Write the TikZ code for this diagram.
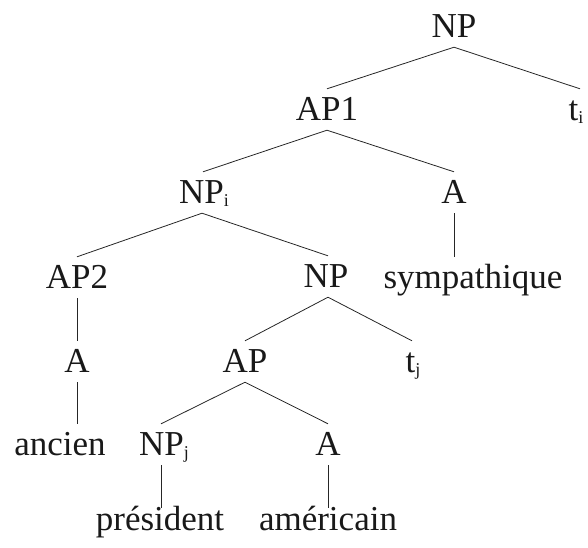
\documentclass[tikz,border=0pt]{standalone}
\usepackage{fontspec}
\setmainfont{Liberation Serif}
\newcommand{\mysub}[1]{\raisebox{-3pt}{\fontsize{18}{18}\selectfont #1}}
\begin{document}
\begin{tikzpicture}[x=1pt,y=-1pt,
  lab/.style={anchor=base,inner xsep=0pt,inner ysep=10pt,text height=21pt,text depth=0pt,
    font=\fontsize{35}{40}\selectfont,text=black!90},
  leaf/.style={lab,text height=12pt},
  edge/.style={draw=black!85,line width=0.8pt}]
\useasboundingbox (0,0) rectangle (588,547);
\node[lab] (np0) at (454,37) {NP};
\node[lab] (ap1) at (327,120) {AP1};
\node[lab] (ti) at (576,120) {t\mysub{i}};
\node[lab] (npi) at (204,203) {NP\mysub{i}};
\node[lab] (a1) at (454,203) {A};
\node[lab] (ap2) at (77,288) {AP2};
\node[lab] (np1) at (326,287) {NP};
\node[lab] (symp) at (473,288) {sympathique};
\node[lab] (a2) at (77,372) {A};
\node[lab] (ap) at (245,372) {AP};
\node[lab] (tj) at (413,372) {t\mysub{j}};
\node[lab] (anc) at (60,455) {ancien};
\node[lab] (npj) at (164,455) {NP\mysub{j}};
\node[lab] (a3) at (328,455) {A};
\node[leaf] (pres) at (160,530) {président};
\node[leaf] (amer) at (328,530) {américain};
\path[edge] (np0.south) -- (ap1.north);
\path[edge] (np0.south) -- ([xshift=4pt]ti.north);
\path[edge] (ap1.south) -- ([xshift=-1pt]npi.north);
\path[edge] (ap1.south) -- (a1.north);
\path[edge] ([xshift=-2pt]npi.south) -- (ap2.north);
\path[edge] ([xshift=-2pt]npi.south) -- ([xshift=2pt]np1.north);
\path[edge] (a1.south) -- (a1.south |- symp.north);
\path[edge] (ap2.south) -- (a2.north);
\path[edge] ([xshift=2pt]np1.south) -- (ap.north);
\path[edge] ([xshift=2pt]np1.south) -- ([xshift=-1pt]tj.north);
\path[edge] (a2.south) -- (a2.south |- anc.north);
\path[edge] (ap.south) -- ([xshift=-3pt]npj.north);
\path[edge] (ap.south) -- (a3.north);
\path[edge] ([xshift=-3pt]npj.south) -- ([xshift=-3pt]npj.south |- pres.north);
\path[edge] (a3.south) -- (amer.north);
\end{tikzpicture}
\end{document}
